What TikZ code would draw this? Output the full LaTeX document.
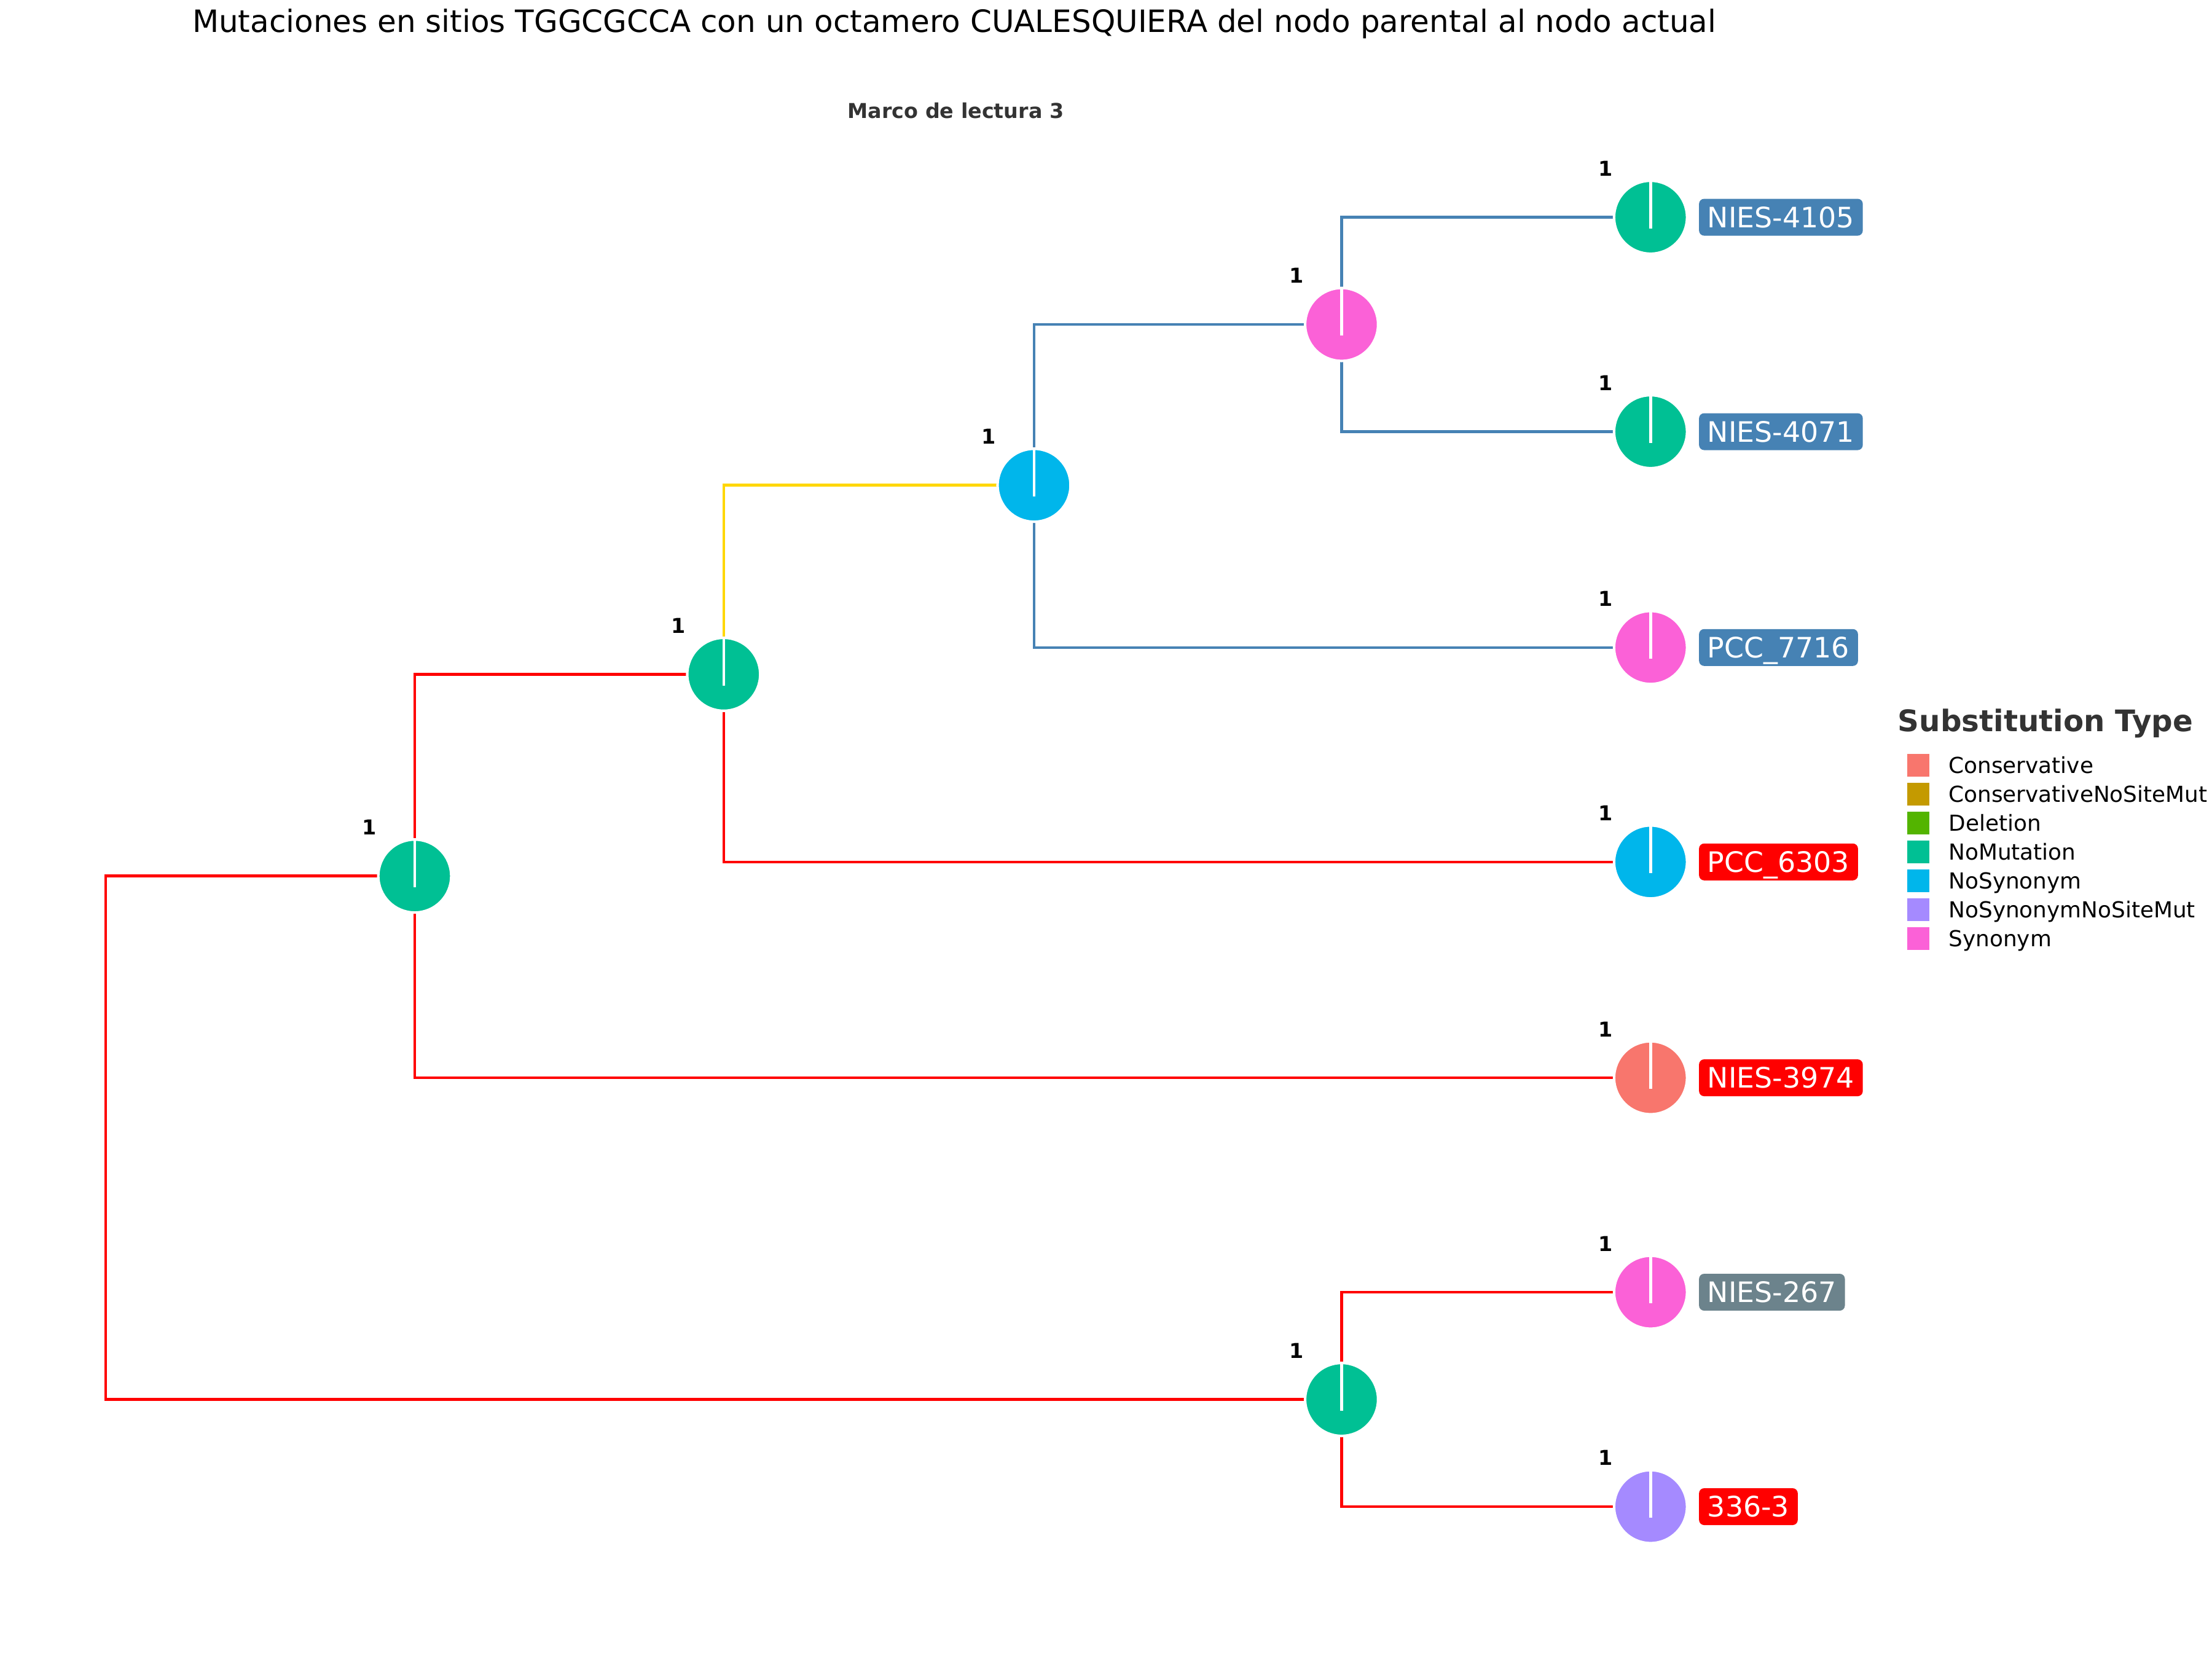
\documentclass[tikz,border=0pt]{standalone}
\usepackage{fontspec}
\setmainfont{DejaVu Sans}
\pgfdeclarelayer{bg}
\pgfsetlayers{bg,main}
\definecolor{cCons}{HTML}{F8766D}
\definecolor{cConsNS}{HTML}{C49A00}
\definecolor{cDel}{HTML}{53B400}
\definecolor{cNoMut}{HTML}{00C094}
\definecolor{cNoSyn}{HTML}{00B6EB}
\definecolor{cNoSynNS}{HTML}{A58AFF}
\definecolor{cSyn}{HTML}{FB61D7}
\definecolor{cSteel}{HTML}{4682B4}
\definecolor{cRed}{HTML}{FF0000}
\definecolor{cGold}{HTML}{FFD700}
\definecolor{cSlate}{HTML}{6C838C}
\definecolor{cDark}{HTML}{333333}
\newcommand\pienode[4]{%
  \node[pie,fill=#4] (#1) at (#2,#3) {};
  \draw[white,line width=1.1pt] (#1.north) -- ([yshift=-4.4pt]#1.center);
  \node[cnt] (#1c) at (#2-32,#3-34.5) {1};
}
\begin{document}
\begin{tikzpicture}[x=0.55102pt,y=-0.55102pt,
  pie/.style={circle,minimum size=28.5pt,inner sep=0pt,draw=white,line width=1pt},
  br/.style={line width=1.1pt,line join=miter},
  tiplab/.style={anchor=west,text=white,font=\fontsize{11}{11}\selectfont,rounded corners=2pt,inner xsep=3.3pt,inner ysep=3.2pt,text height=8pt,text depth=0pt},
  cnt/.style={font=\bfseries\fontsize{8}{8}\selectfont,inner sep=0pt},
  keybox/.style={minimum width=8.6pt,minimum height=8.8pt,inner sep=0pt},
  keytext/.style={anchor=base west,inner sep=0pt,font=\fontsize{8.6}{8.6}\selectfont}
]
\useasboundingbox (0,0) rectangle (1568,1176);

% titles
\node[anchor=base west,inner sep=0pt,font=\fontsize{12}{12}\selectfont] (title) at (136,23) {Mutaciones en sitios TGGCGCCA con un octamero CUALESQUIERA del nodo parental al nodo actual};
\node[anchor=base,inner sep=0pt,text=cDark,font=\bfseries\fontsize{8}{8}\selectfont] (subtitle) at (677.5,83.8) {Marco de lectura 3};

% tree nodes
\coordinate (root) at (75,806.5);
\pienode{n1}{294}{621}{cNoMut}
\pienode{n2}{513}{478}{cNoMut}
\pienode{n3}{733}{344}{cNoSyn}
\pienode{n4}{951}{230}{cSyn}
\pienode{n5}{951}{992}{cNoMut}
\pienode{t4105}{1170}{154}{cNoMut}
\pienode{t4071}{1170}{306}{cNoMut}
\pienode{t7716}{1170}{459}{cSyn}
\pienode{t6303}{1170}{611}{cNoSyn}
\pienode{t3974}{1170}{764}{cCons}
\pienode{t267}{1170}{916}{cSyn}
\pienode{t336}{1170}{1068}{cNoSynNS}

% tip labels
\node[tiplab,fill=cSteel] (b4105) at (1204,154) {NIES-4105};
\node[tiplab,fill=cSteel] (b4071) at (1204,306) {NIES-4071};
\node[tiplab,fill=cSteel] (b7716) at (1204,459) {PCC\_7716};
\node[tiplab,fill=cRed] (b6303) at (1204,611) {PCC\_6303};
\node[tiplab,fill=cRed] (b3974) at (1204,764) {NIES-3974};
\node[tiplab,fill=cSlate] (b267) at (1204,916) {NIES-267};
\node[tiplab,fill=cRed] (b336) at (1204,1068) {336-3};

% branches
\begin{pgfonlayer}{bg}
\fill[white] (0,0) rectangle (1568,1176);
\draw[br,cRed] (root) |- (n1.center);
\draw[br,cRed] (root) |- (n5.center);
\draw[br,cRed] (n1.center) |- (n2.center);
\draw[br,cRed] (n1.center) |- (t3974.center);
\draw[br,cGold] (n2.center) |- (n3.center);
\draw[br,cRed] (n2.center) |- (t6303.center);
\draw[br,cSteel] (n3.center) |- (n4.center);
\draw[br,cSteel] (n3.center) |- (t7716.center);
\draw[br,cSteel] (n4.center) |- (t4105.center);
\draw[br,cSteel] (n4.center) |- (t4071.center);
\draw[br,cRed] (n5.center) |- (t267.center);
\draw[br,cRed] (n5.center) |- (t336.center);
\end{pgfonlayer}

% legend
\node[anchor=base west,inner sep=0pt,text=cDark,font=\bfseries\fontsize{11.6}{11.6}\selectfont] (legtitle) at (1345,518.7) {Substitution Type};
\node[keybox,fill=cCons] (k1) at (1359.8,542.4) {};
\node[keybox,fill=cConsNS] (k2) at (1359.8,562.9) {};
\node[keybox,fill=cDel] (k3) at (1359.8,583.3) {};
\node[keybox,fill=cNoMut] (k4) at (1359.8,603.8) {};
\node[keybox,fill=cNoSyn] (k5) at (1359.8,624.3) {};
\node[keybox,fill=cNoSynNS] (k6) at (1359.8,644.8) {};
\node[keybox,fill=cSyn] (k7) at (1359.8,665.2) {};
\node[keytext] (kt1) at (1381,548.0) {Conservative};
\node[keytext] (kt2) at (1381,568.5) {ConservativeNoSiteMut};
\node[keytext] (kt3) at (1381,588.9) {Deletion};
\node[keytext] (kt4) at (1381,609.4) {NoMutation};
\node[keytext] (kt5) at (1381,629.9) {NoSynonym};
\node[keytext] (kt6) at (1381,650.4) {NoSynonymNoSiteMut};
\node[keytext] (kt7) at (1381,670.8) {Synonym};
\end{tikzpicture}
\end{document}
